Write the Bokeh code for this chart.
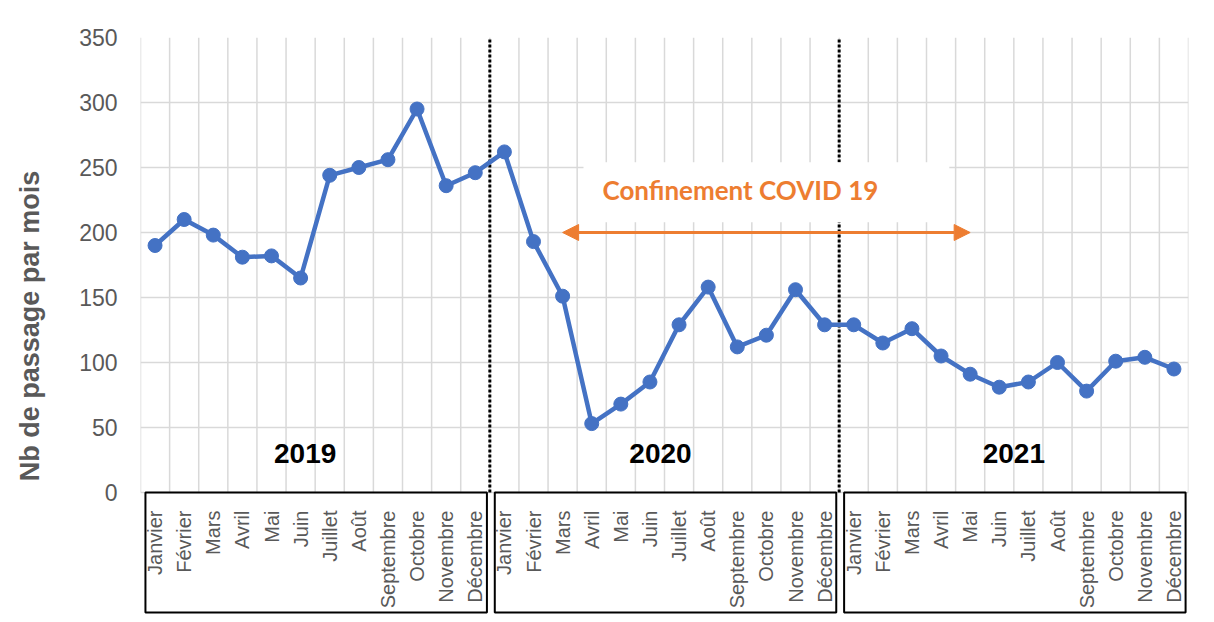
from bokeh.plotting import figure
from bokeh.models import Range1d, FixedTicker, Label, Arrow, NormalHead, BoxAnnotation
from bokeh.embed import file_html
from bokeh.resources import INLINE

# ---------------- data ----------------
months = ["Janvier", "Février", "Mars", "Avril", "Mai", "Juin", "Juillet",
          "Août", "Septembre", "Octobre", "Novembre", "Décembre"]
years = ["2019", "2020", "2021"]
v2019 = [190, 210, 198, 181, 182, 165, 244, 250, 256, 295, 236, 246]
v2020 = [262, 193, 151, 53, 68, 85, 129, 158, 112, 121, 156, 129]
v2021 = [129, 115, 126, 105, 91, 81, 85, 100, 78, 101, 104, 95]
y_ticks = [0, 50, 100, 150, 200, 250, 300, 350]
lock_start = ("2020", "Mars")
lock_end = ("2021", "Mai")
lock_level = 200
annotation_text = "Confinement COVID 19"
y_title = "Nb de passage par mois"

# ---------------- derived ----------------
values = v2019 + v2020 + v2021
n = len(values)
xs = list(range(n))
labels = {i: months[i % 12] for i in xs}
ymax = 350
# frame: canvas y 37 (350) .. 614 ; value 0 at canvas y 492
px_per_unit = (492 - 37) / ymax
ymin = -(614 - 492) / px_per_unit
box_depth = -(612 - 492) / px_per_unit


def idx(year, month):
    return years.index(year) * 12 + months.index(month)


GRID = "#d9d9d9"
TXT = "#595959"
BLUE = "#4472C4"
ORANGE = "#ED7D31"

p = figure(width=1206, height=614, output_backend="svg", toolbar_location=None,
           x_range=Range1d(-0.5, n - 0.5), y_range=Range1d(ymin, ymax),
           min_border_left=140, min_border_right=18, min_border_top=37,
           min_border_bottom=0)
p.outline_line_color = None
p.background_fill_color = "white"
p.border_fill_color = "white"

# light outer border
p.add_layout(BoxAnnotation(left=7, right=1400, top=7, bottom=900,
                           left_units="canvas", right_units="canvas",
                           top_units="canvas", bottom_units="canvas",
                           fill_color=None, fill_alpha=0, line_color=GRID,
                           line_width=1.5, level="overlay"))

# horizontal grid
p.xgrid.visible = False
p.ygrid.ticker = FixedTicker(ticks=y_ticks)
p.ygrid.grid_line_color = GRID
p.ygrid.grid_line_width = 1.5

# vertical grid (category boundaries, only over the value range)
bounds = [i - 0.5 for i in range(n + 1)]
p.segment(x0=bounds, y0=[0] * len(bounds), x1=bounds, y1=[ymax] * len(bounds),
          line_color=GRID, line_width=1.5)

# year separators (dotted)
seps = [12 * k - 0.5 for k in range(1, len(years))]
p.segment(x0=seps, y0=[0] * len(seps), x1=seps, y1=[ymax] * len(seps),
          line_color="black", line_width=3, line_dash="3 2")

# boxes around month labels per year
lefts = [12 * k - 0.5 + 0.17 for k in range(len(years))]
rights = [12 * k + 11.5 - 0.1 for k in range(len(years))]
p.quad(left=lefts, right=rights, bottom=[box_depth] * len(years), top=[0] * len(years),
       fill_color=None, line_color="black", line_width=2)

# series
p.line(xs, values, line_color=BLUE, line_width=4.5)
p.scatter(xs, values, size=14, fill_color=BLUE, line_color=BLUE)

# year labels
year_nudge = [-10, -4, 0]
for k, yr in enumerate(years):
    p.add_layout(Label(x=12 * k + 5.5, y=30, text=yr, text_align="center",
                       x_offset=year_nudge[k],
                       text_baseline="middle", text_font="Liberation Sans",
                       text_font_style="bold", text_font_size="28px",
                       text_color="black"))

# lockdown arrow + label
xa = idx(*lock_start)
xb = idx(*lock_end)
p.add_layout(Label(x=(xa + xb) / 2, y=lock_level + 31, text=annotation_text,
                   text_align="center", text_baseline="middle", x_offset=0,
                   text_font="Lato", text_font_style="bold",
                   text_font_size="26px", text_color=ORANGE,
                   background_fill_color="white",
                   padding=dict(left=19, right=71, top=12, bottom=16)))
p.add_layout(Arrow(x_start=xa, y_start=lock_level, x_end=xb, y_end=lock_level,
                   line_color=ORANGE, line_width=3,
                   start=NormalHead(size=16, fill_color=ORANGE, line_color=ORANGE),
                   end=NormalHead(size=16, fill_color=ORANGE, line_color=ORANGE)))

# y axis
ya = p.yaxis[0]
ya.ticker = FixedTicker(ticks=y_ticks)
ya.axis_line_color = None
ya.major_tick_line_color = None
ya.minor_tick_line_color = None
ya.major_label_standoff = 17
ya.major_label_text_font = "Liberation Sans"
ya.major_label_text_font_size = "23px"
ya.major_label_text_color = TXT
ya.axis_label = y_title
ya.axis_label_text_font = "Liberation Sans"
ya.axis_label_text_font_style = "bold"
ya.axis_label_text_font_size = "27px"
ya.axis_label_text_color = TXT
ya.axis_label_standoff = 31

# x axis (month labels) at value 0
xa_ = p.xaxis[0]
xa_.fixed_location = 0
xa_.ticker = FixedTicker(ticks=xs)
xa_.major_label_overrides = labels
xa_.major_label_orientation = 3.14159265 / 2
xa_.axis_line_color = None
xa_.major_tick_line_color = None
xa_.minor_tick_line_color = None
xa_.major_label_standoff = 12
xa_.major_label_text_font = "Liberation Sans"
xa_.major_label_text_font_size = "20px"
xa_.major_label_text_color = TXT

open("out.html", "w").write(file_html(p, INLINE))
